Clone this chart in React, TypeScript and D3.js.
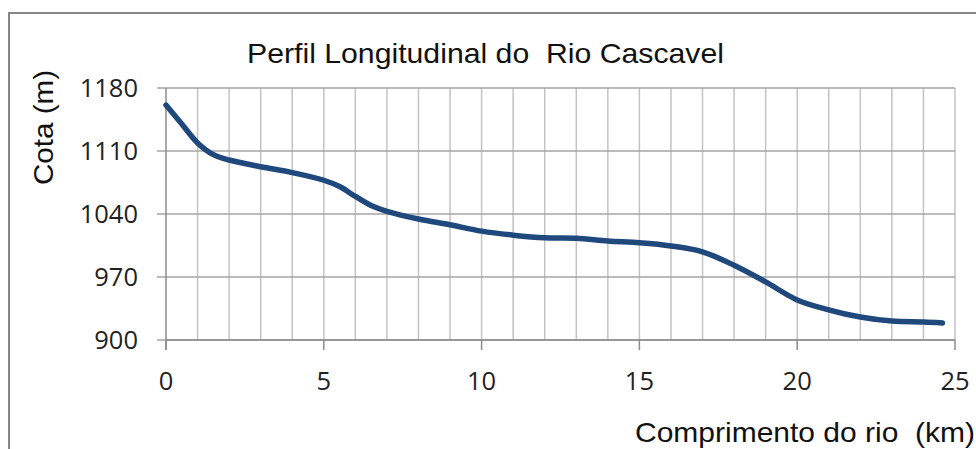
import * as React from 'react';
import * as d3 from 'd3';

// distância ao longo do rio (km) e cota (m)
const KM = [0, 0.5, 1, 1.5, 2, 3, 4, 5, 5.5, 6, 6.5, 7, 8, 9, 10, 11, 12, 13, 14, 15, 16, 17, 18, 19, 20, 21, 22, 23, 24, 24.6];
const COTA = [1161, 1140, 1119, 1106, 1100, 1092.5, 1086, 1077.5, 1070.5, 1059.5, 1049.5, 1043, 1034.5, 1028, 1021, 1016.5, 1013.5, 1013, 1010, 1008, 1004.5, 998, 983, 964.5, 944.5, 933.5, 925.5, 921, 920, 919];
const Y_TICKS = [900, 970, 1040, 1110, 1180];
const X_TICKS = [0, 5, 10, 15, 20, 25];

const TITLE = 'Perfil Longitudinal do  Rio Cascavel';
const X_TITLE = 'Comprimento do rio  (km)';
const Y_TITLE = 'Cota (m)';

const W = 976;
const H = 449;
const plot = { left: 166, right: 955, top: 88, bottom: 340 };

export default function App() {
  const x = d3.scaleLinear().domain([0, 25]).range([plot.left, plot.right]);
  const y = d3.scaleLinear().domain([900, 1180]).range([plot.bottom, plot.top]);

  const points = KM.map((k, i) => ({ k, c: COTA[i] }));
  const line = d3
    .line<{ k: number; c: number }>()
    .x((d) => x(d.k))
    .y((d) => y(d.c))
    .curve(d3.curveCatmullRom.alpha(0.5));

  const minor = d3.range(1, 26);
  const tickFont = "'Open Sans', sans-serif";
  const labelFont = "'Liberation Sans', Arial, sans-serif";
  const pre = { whiteSpace: 'pre' as const };

  return (
    <div style={{ position: 'absolute', left: 0, top: 0 }}>
      <svg width={W} height={H} style={{ display: 'block', background: '#fff' }}>
        {/* moldura do gráfico */}
        <rect x={9} y={13} width={W + 20} height={H + 20} fill="#fff" stroke="#878787" strokeWidth={2} />

        {/* grade vertical */}
        {minor.map((k) => (
          <line key={'v' + k} x1={x(k)} x2={x(k)} y1={plot.top} y2={plot.bottom} stroke="#c3c3c3" strokeWidth={1.5} />
        ))}
        {/* grade horizontal */}
        {Y_TICKS.map((v) => (
          <line key={'h' + v} x1={plot.left - 9} x2={plot.right} y1={y(v)} y2={y(v)} stroke="#a5a5a5" strokeWidth={1.5} />
        ))}
        {/* eixos */}
        <line x1={plot.left} x2={plot.left} y1={plot.top} y2={plot.bottom + 10} stroke="#8c8c8c" strokeWidth={1.5} />
        {X_TICKS.map((v) => (
          <line key={'xt' + v} x1={x(v)} x2={x(v)} y1={plot.bottom} y2={plot.bottom + 10} stroke="#8c8c8c" strokeWidth={1.5} />
        ))}
        <line x1={plot.left} x2={plot.right} y1={plot.bottom} y2={plot.bottom} stroke="#8c8c8c" strokeWidth={1.5} />

        {/* rótulos dos eixos */}
        {Y_TICKS.map((v) => (
          <text key={'yl' + v} x={138} y={y(v)} dy="0.36em" textAnchor="end" fontFamily={tickFont} fontSize={25.5} fill="#222">
            {v}
          </text>
        ))}
        {X_TICKS.map((v) => (
          <text key={'xl' + v} x={x(v)} y={390} textAnchor="middle" fontFamily={tickFont} fontSize={25.5} fill="#222">
            {v}
          </text>
        ))}

        {/* série */}
        <path d={line(points) || ''} fill="none" stroke="#1f497d" strokeWidth={5.5} strokeLinecap="round" strokeLinejoin="round" />

        {/* títulos */}
        <text x={247} y={63} fontFamily={labelFont} fontSize={28} fill="#111" style={pre} textLength={477} lengthAdjust="spacingAndGlyphs">
          {TITLE}
        </text>
        <text x={635} y={442} fontFamily={labelFont} fontSize={28} fill="#111" style={pre} textLength={340} lengthAdjust="spacingAndGlyphs">
          {X_TITLE}
        </text>
        <text transform="translate(53,127.5) rotate(-90)" textAnchor="middle" fontFamily={labelFont} fontSize={28} fill="#111" textLength={115} lengthAdjust="spacingAndGlyphs">
          {Y_TITLE}
        </text>
      </svg>
    </div>
  );
}
